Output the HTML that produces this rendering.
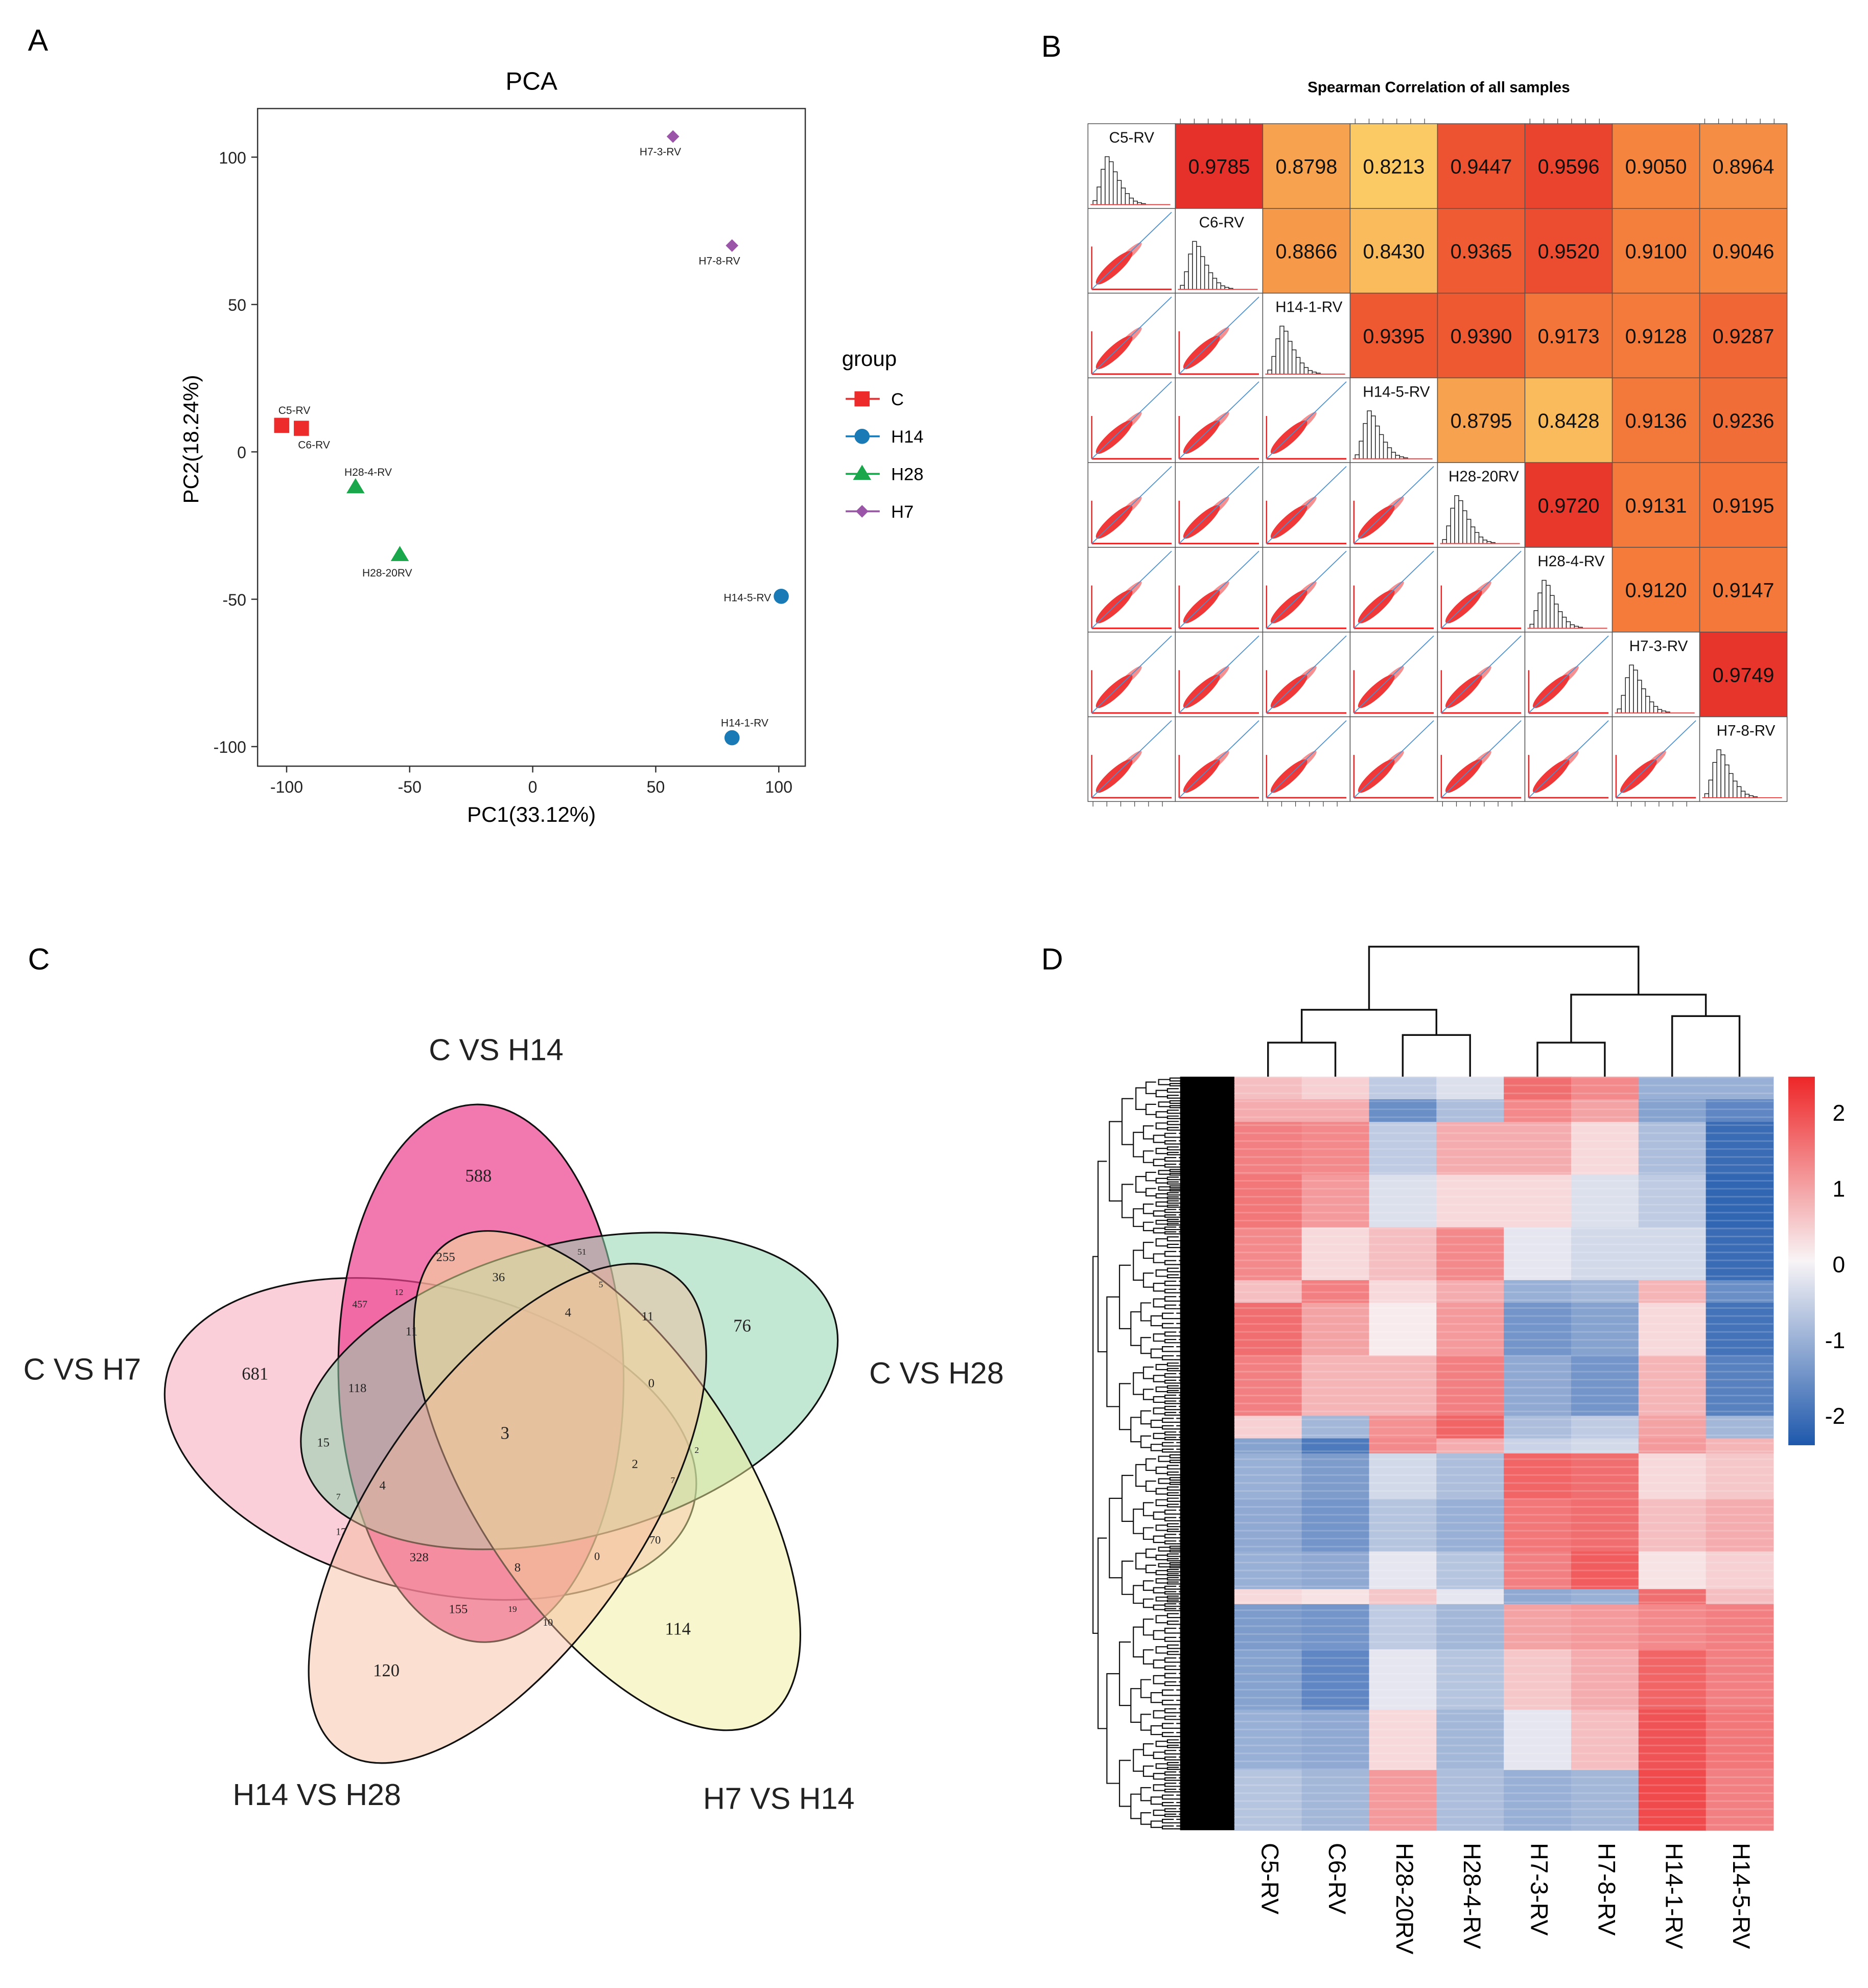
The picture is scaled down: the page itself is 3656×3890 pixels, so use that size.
<!DOCTYPE html>
<html><head><meta charset="utf-8"><style>
html,body{margin:0;padding:0;background:#fff;}
svg{display:block;font-family:"Liberation Sans",sans-serif;}
.venn{font-family:"Liberation Serif",serif;}
</style></head><body>
<svg id="fig" xmlns="http://www.w3.org/2000/svg" width="3656" height="3890" viewBox="0 0 1480 1575">
<rect width="1480" height="1575" fill="#fff"/>
<text x="22" y="40" font-size="24">A</text>
<text x="825" y="45" font-size="24">B</text>
<text x="22" y="768" font-size="24">C</text>
<text x="825" y="768" font-size="24">D</text>

<!-- Panel C Venn -->
<g stroke="#111" stroke-width="1.3">
<ellipse cx="341" cy="1140" rx="215" ry="120" transform="rotate(14 341 1140)" fill="#f7b5c6" fill-opacity="0.65"/>
<ellipse cx="381" cy="1088" rx="113" ry="213" transform="rotate(-1 381 1088)" fill="#ec3f8f" fill-opacity="0.7"/>
<ellipse cx="451" cy="1102" rx="218" ry="116" transform="rotate(-15 451 1102)" fill="#8fd3ad" fill-opacity="0.55"/>
<ellipse cx="481" cy="1173" rx="105" ry="227" transform="rotate(-33.6 481 1173)" fill="#f2ee9a" fill-opacity="0.5"/>
<ellipse cx="402" cy="1199" rx="105" ry="230" transform="rotate(35 402 1199)" fill="#f6b89a" fill-opacity="0.45"/>
</g>
<g font-size="24" fill="#222">
<text x="393" y="840" text-anchor="middle">C VS H14</text>
<text x="65" y="1093" text-anchor="middle">C VS H7</text>
<text x="742" y="1096" text-anchor="middle">C VS H28</text>
<text x="251" y="1430" text-anchor="middle">H14 VS H28</text>
<text x="617" y="1433" text-anchor="middle">H7 VS H14</text>
</g>
<g class="venn" text-anchor="middle" fill="#222">
<text x="379" y="936" font-size="14">588</text>
<text x="202" y="1093" font-size="14">681</text>
<text x="588" y="1055" font-size="14">76</text>
<text x="537" y="1295" font-size="14">114</text>
<text x="306" y="1328" font-size="14">120</text>
<text x="400" y="1140" font-size="14">3</text>
<text x="353" y="999" font-size="10">255</text>
<text x="395" y="1015" font-size="10">36</text>
<text x="285" y="1036" font-size="8">457</text>
<text x="316" y="1026" font-size="7">12</text>
<text x="461" y="994" font-size="7">51</text>
<text x="476" y="1020" font-size="7">5</text>
<text x="326" y="1058" font-size="10">11</text>
<text x="450" y="1043" font-size="10">4</text>
<text x="513" y="1046" font-size="10">11</text>
<text x="283" y="1103" font-size="10">118</text>
<text x="516" y="1099" font-size="10">0</text>
<text x="256" y="1146" font-size="10">15</text>
<text x="503" y="1163" font-size="10">2</text>
<text x="552" y="1151" font-size="7">2</text>
<text x="303" y="1180" font-size="10">4</text>
<text x="268" y="1188" font-size="7">7</text>
<text x="533" y="1175" font-size="7">7</text>
<text x="270" y="1216" font-size="8">17</text>
<text x="519" y="1223" font-size="9">70</text>
<text x="332" y="1237" font-size="10">328</text>
<text x="410" y="1245" font-size="10">8</text>
<text x="473" y="1236" font-size="9">0</text>
<text x="363" y="1278" font-size="10">155</text>
<text x="406" y="1277" font-size="7">19</text>
<text x="434" y="1288" font-size="8">10</text>
</g>
</svg>
<script>
const svg=document.getElementById('fig');
const NS='http://www.w3.org/2000/svg';
function mk(tag,attrs,parent){const e=document.createElementNS(NS,tag);for(const k in attrs)e.setAttribute(k,attrs[k]);(parent||svg).appendChild(e);return e;}

/* ================= Panel A: PCA ================= */
const pcaNames=['C5-RV','C6-RV','H28-4-RV','H28-20RV','H14-5-RV','H14-1-RV','H7-3-RV','H7-8-RV'];
const pcaGroup=['C','C','H28','H28','H14','H14','H7','H7'];
const pc1=[-102,-94,-72,-54,101,81,57,81];
const pc2=[9,8,-12,-35,-49,-97,107,70];
const pcaXTicks=[-100,-50,0,50,100];
const pcaYTicks=[100,50,0,-50,-100];
const groups=['C','H14','H28','H7'];
const groupColors={C:'#ee2b2b',H14:'#1a7ab5',H28:'#1aa64a',H7:'#9a55a8'};

const sx=v=>422+v*1.95, sy=v=>358-v*2.335;
const gA=mk('g',{});


let t=mk('text',{x:421,y:71,'font-size':20,'text-anchor':'middle'},gA);t.textContent='PCA';


let fr=mk('rect',{x:204,y:86,width:434,height:521,fill:'none',stroke:'#333','stroke-width':1},gA);


pcaXTicks.forEach(v=>{
  mk('line',{x1:sx(v),x2:sx(v),y1:607,y2:612,stroke:'#333'},gA);
  const tx=mk('text',{x:sx(v),y:628,'font-size':13,'text-anchor':'middle',fill:'#222'},gA);tx.textContent=v;
  
  
});
pcaYTicks.forEach(v=>{
  mk('line',{x1:199,x2:204,y1:sy(v),y2:sy(v),stroke:'#333'},gA);
  const tx=mk('text',{x:195,y:sy(v)+5,'font-size':13,'text-anchor':'end',fill:'#222'},gA);tx.textContent=v;
  
  
});
t=mk('text',{x:421,y:651,'font-size':17,'text-anchor':'middle'},gA);t.textContent='PC1(33.12%)';


t=mk('text',{x:0,y:0,'font-size':17,'text-anchor':'middle',transform:'translate(157 348) rotate(-90)'},gA);t.textContent='PC2(18.24%)';



function marker(g,cx,cy,grp,s,parent){
  let e;const c=groupColors[grp];
  if(grp==='C')e=mk('rect',{x:cx-s,y:cy-s,width:2*s,height:2*s,fill:c},parent);
  else if(grp==='H14')e=mk('circle',{cx:cx,cy:cy,r:s,fill:c},parent);
  else if(grp==='H28')e=mk('polygon',{points:`${cx},${cy-s*1.2} ${cx-s*1.2},${cy+s*0.8} ${cx+s*1.2},${cy+s*0.8}`,fill:c},parent);
  else e=mk('polygon',{points:`${cx},${cy-s} ${cx+s},${cy} ${cx},${cy+s} ${cx-s},${cy}`,fill:c},parent);
  return e;
}
const lblPos=[[10,-9,'middle'],[10,16,'middle'],[10,-9,'middle'],[-10,17,'middle'],[-8,4,'end'],[10,-9,'middle'],[-10,15,'middle'],[-10,15,'middle']];
pc1.forEach((v,i)=>{
  const cx=sx(v),cy=sy(pc2[i]);
  const m=marker(null,cx,cy,pcaGroup[i],pcaGroup[i]==='H7'?5:6,gA);
  
  
  const l=mk('text',{x:cx+lblPos[i][0],y:cy+lblPos[i][1],'font-size':8.5,'text-anchor':lblPos[i][2],fill:'#222'},gA);l.textContent=pcaNames[i];
  
  
});
t=mk('text',{x:667,y:290,'font-size':17},gA);t.textContent='group';


groups.forEach((g,i)=>{
  const y=316+i*29.7;
  const lg=mk('g',{},gA);
  
  
  mk('line',{x1:670,x2:697,y1:y,y2:y,stroke:groupColors[g],'stroke-width':1.5},lg);
  marker(null,683,y,g,g==='H7'?5:6,lg);
  const tx=mk('text',{x:706,y:y+5,'font-size':14},lg);tx.textContent=g;
});

/* ================= Panel B: correlation ================= */
const samplesB=['C5-RV','C6-RV','H14-1-RV','H14-5-RV','H28-20RV','H28-4-RV','H7-3-RV','H7-8-RV'];
const corrRow1=[0.9785,0.8798,0.8213,0.9447,0.9596,0.9050,0.8964];
const corrRow2=[0.8866,0.8430,0.9365,0.9520,0.9100,0.9046];
const corrRow3=[0.9395,0.9390,0.9173,0.9128,0.9287];
const corrRow4=[0.8795,0.8428,0.9136,0.9236];
const corrRow5=[0.9720,0.9131,0.9195];
const corrRow6=[0.9120,0.9147];
const corrRow7=[0.9749];
const corrRows=[corrRow1,corrRow2,corrRow3,corrRow4,corrRow5,corrRow6,corrRow7];
const histBars=[0.08,0.35,0.7,0.95,0.85,0.65,0.48,0.33,0.22,0.13,0.07,0.04,0.02];

const bx0=862,by0=98,cw=(1416-862)/8,ch=(635-98)/8;
const gB=mk('g',{});


t=mk('text',{x:1140,y:73,'font-size':12,'font-weight':'bold','text-anchor':'middle'},gB);t.textContent='Spearman Correlation of all samples';


const cStops=[[0.82,[251,203,101]],[0.88,[247,162,78]],[0.91,[244,126,59]],[0.94,[238,88,50]],[0.98,[230,48,42]]];
function corrColor(v){
  if(v<=cStops[0][0])return 'rgb('+cStops[0][1]+')';
  for(let i=1;i<cStops.length;i++){if(v<=cStops[i][0]){const a=cStops[i-1],b=cStops[i],f=(v-a[0])/(b[0]-a[0]);return 'rgb('+a[1].map((x,k)=>Math.round(x+(b[1][k]-x)*f)).join(',')+')';}}
  return 'rgb('+cStops[4][1]+')';
}
for(let r=0;r<8;r++){
  for(let c=0;c<8;c++){
    const x=bx0+c*cw,y=by0+r*ch;
    if(c>r){
      const v=corrRows[r][c-r-1];
      const cell=mk('rect',{x:x,y:y,width:cw,height:ch,fill:corrColor(v),stroke:'#555','stroke-width':0.6},gB);
      
      
      const tx=mk('text',{x:x+cw/2,y:y+ch/2+6,'font-size':16,'text-anchor':'middle',fill:'#111'},gB);tx.textContent=v.toFixed(4);
      
      
    }else if(c===r){
      const cell=mk('rect',{x:x,y:y,width:cw,height:ch,fill:'#fff',stroke:'#555','stroke-width':0.6},gB);
      
      
      const bw=3.2;
      histBars.forEach((h,k)=>{
        mk('rect',{x:x+4+k*bw,y:y+ch-3-h*40,width:bw,height:h*40,fill:'#fff',stroke:'#222','stroke-width':0.6},gB);
      });
      mk('line',{x1:x+2,x2:x+cw-4,y1:y+ch-3,y2:y+ch-3,stroke:'#e44','stroke-width':0.8},gB);
      const tx=mk('text',{x:x+cw/2+(r===0?0:2),y:y+15,'font-size':12,'text-anchor':'middle',fill:'#111'},gB);tx.textContent=samplesB[r];
      
      
    }else{
      const cell=mk('rect',{x:x,y:y,width:cw,height:ch,fill:'#fff',stroke:'#555','stroke-width':0.6},gB);
      
      
      const cx=x+cw*0.3,cy=y+ch*0.7;
      mk('ellipse',{cx:cx,cy:cy,rx:19,ry:5,transform:`rotate(-42 ${cx} ${cy})`,fill:'#e22',opacity:0.9},gB);
      mk('ellipse',{cx:cx+12,cy:cy-11,rx:13,ry:3,transform:`rotate(-42 ${cx+12} ${cy-11})`,fill:'#e33',opacity:0.55},gB);
      mk('line',{x1:x+3,x2:x+cw-3,y1:y+ch-3,y2:y+ch-3,stroke:'#e22','stroke-width':1.2},gB);
      mk('line',{x1:x+3,x2:x+3,y1:y+ch-3,y2:y+ch*0.45,stroke:'#e22','stroke-width':1},gB);
      mk('line',{x1:x+3,x2:x+cw-3,y1:y+ch-3,y2:y+3,stroke:'#4a90d0','stroke-width':0.7},gB);
    }
  }
}
for(let c=0;c<8;c++){
  const x=bx0+c*cw;
  if(c%2===0){for(let k=0;k<6;k++)mk('line',{x1:x+4+k*11,x2:x+4+k*11,y1:by0+ch*8,y2:by0+ch*8+4,stroke:'#444','stroke-width':0.5},gB);}
  else{for(let k=0;k<6;k++)mk('line',{x1:x+4+k*11,x2:x+4+k*11,y1:by0,y2:by0-4,stroke:'#444','stroke-width':0.5},gB);}
}

/* ================= Panel D: heatmap ================= */
const hmCols=['C5-RV','C6-RV','H28-20RV','H28-4-RV','H7-3-RV','H7-8-RV','H14-1-RV','H14-5-RV'];
const hmBlockEnds=[0.03,0.06,0.13,0.2,0.27,0.3,0.37,0.45,0.48,0.5,0.56,0.63,0.68,0.7,0.76,0.84,0.92,1.0];
const hmVals=[
 [0.6,0.4,-0.6,-0.3,1.5,1.2,-1.0,-1.0],
 [0.8,0.8,-1.5,-0.8,1.2,0.9,-1.2,-1.6],
 [1.3,1.2,-0.6,0.8,0.8,0.3,-0.8,-2.0],
 [1.4,1.0,-0.3,0.3,0.3,-0.3,-0.6,-2.1],
 [1.2,0.3,0.6,1.2,-0.2,-0.4,-0.4,-2.0],
 [0.6,1.3,0.3,0.8,-1.0,-0.9,0.7,-1.5],
 [1.5,0.9,0.1,1.0,-1.4,-1.2,0.3,-1.9],
 [1.3,0.7,0.7,1.3,-1.1,-1.4,0.7,-1.7],
 [0.4,-0.9,1.1,1.6,-0.8,-0.6,0.9,-0.9],
 [-1.2,-1.8,1.2,0.8,-0.5,-0.4,1.0,0.7],
 [-1.0,-1.3,-0.4,-0.8,1.6,1.5,0.3,0.5],
 [-1.1,-1.4,-0.7,-1.0,1.4,1.5,0.6,0.8],
 [-1.0,-1.1,-0.2,-0.7,1.3,1.7,0.2,0.4],
 [0.3,0.2,0.5,-0.2,-1.1,-1.0,1.5,0.6],
 [-1.3,-1.4,-0.6,-0.9,0.9,1.0,1.2,1.3],
 [-1.2,-1.6,-0.2,-0.7,0.5,0.8,1.6,1.3],
 [-1.0,-1.1,0.3,-0.9,-0.2,0.6,1.8,1.4],
 [-0.7,-0.9,1.0,-0.8,-1.0,-0.9,1.9,1.3]
];
const cbTicks=[2,1,0,-1,-2];
const hx0=978,hx1=1405,hy0=853,hy1=1450;
const hcw=(hx1-hx0)/hmCols.length;
function heatColor(v){
  const f=Math.max(-1,Math.min(1,v/2.3));
  const w=[248,244,246];
  const red=[238,38,40],blue=[30,88,172];
  const tgt=f>=0?red:blue,a=Math.abs(f);
  return 'rgb('+w.map((x,k)=>Math.round(x+(tgt[k]-x)*a)).join(',')+')';
}
const gD=mk('g',{});


hmCols.forEach((name,c)=>{
  let prev=0;
  hmBlockEnds.forEach((e,b)=>{
    const y=hy0+prev*(hy1-hy0),h=(e-prev)*(hy1-hy0);
    const r=mk('rect',{x:hx0+c*hcw,y:y,width:hcw+0.4,height:h+0.4,fill:heatColor(hmVals[b][c])},gD);
    
    
    prev=e;
  });
  const tx=mk('text',{x:0,y:0,'font-size':19,transform:`translate(${hx0+c*hcw+hcw/2-5} 1460) rotate(90)`},gD);tx.textContent=name;
  
  
});
for(let y=hy0;y<hy1;y+=6.3){mk('rect',{x:hx0,y:y,width:hx1-hx0,height:1.2,fill:'#fff',opacity:0.18},gD);}
const defs=mk('defs',{});
const lg=mk('linearGradient',{id:'cb',x1:0,y1:0,x2:0,y2:1},defs);
[[0,heatColor(2.4)],[0.5,heatColor(0)],[1,heatColor(-2.4)]].forEach(s=>mk('stop',{offset:s[0],'stop-color':s[1]},lg));
const cb=mk('rect',{x:1417,y:853,width:21,height:292,fill:'url(#cb)'},gD);


cbTicks.forEach(v=>{
  const y=1001-v*60;
  const tx=mk('text',{x:v<0?1446:1452,y:y+7,'font-size':18},gD);tx.textContent=v;
  
  
});
const dk={stroke:'#111','stroke-width':1.4,fill:'none'};
const cx=i=>hx0+hcw*(i+0.5);
const gDen=mk('g',dk,gD);


function uLink(x1,x2,y,y1b,y2b){mk('path',{d:`M${x1} ${y1b}V${y}H${x2}V${y2b}`},gDen);}
uLink(cx(0),cx(1),826,853,853);uLink(cx(2),cx(3),820,853,853);uLink(cx(4),cx(5),826,853,853);uLink(cx(6),cx(7),805,853,853);
const m01=(cx(0)+cx(1))/2,m23=(cx(2)+cx(3))/2,m45=(cx(4)+cx(5))/2,m67=(cx(6)+cx(7))/2;
uLink(m01,m23,800,826,820);uLink(m45,m67,788,826,805);
uLink((m01+m23)/2,(m45+m67)/2,750,800,788);
const gR=mk('g',{stroke:'#111','stroke-width':0.9,fill:'none'},gD);


const splits=[0.5,0.42,0.58,0.47,0.53,0.45,0.55,0.5];
function tree(y0,y1,x,depth){
  const mid=(y0+y1)/2;
  if(depth>=8){mk('line',{x1:x,x2:978,y1:mid,y2:mid},gR);return mid;}
  const s=y0+(y1-y0)*splits[depth%splits.length];
  const xc=x+[4,7,10,9,8,8,9,9][depth];
  const a=tree(y0,s,xc+(depth%2?2:0),depth+1),b=tree(s,y1,xc,depth+1);
  mk('path',{d:`M${xc} ${a}H${x}V${b}H${xc}`},gR);
  return (a+b)/2;
}
tree(hy0,hy1,866,0);
mk('rect',{x:935,y:hy0,width:43,height:hy1-hy0,fill:'#000',stroke:'none'},gR);
</script>
</body></html>
